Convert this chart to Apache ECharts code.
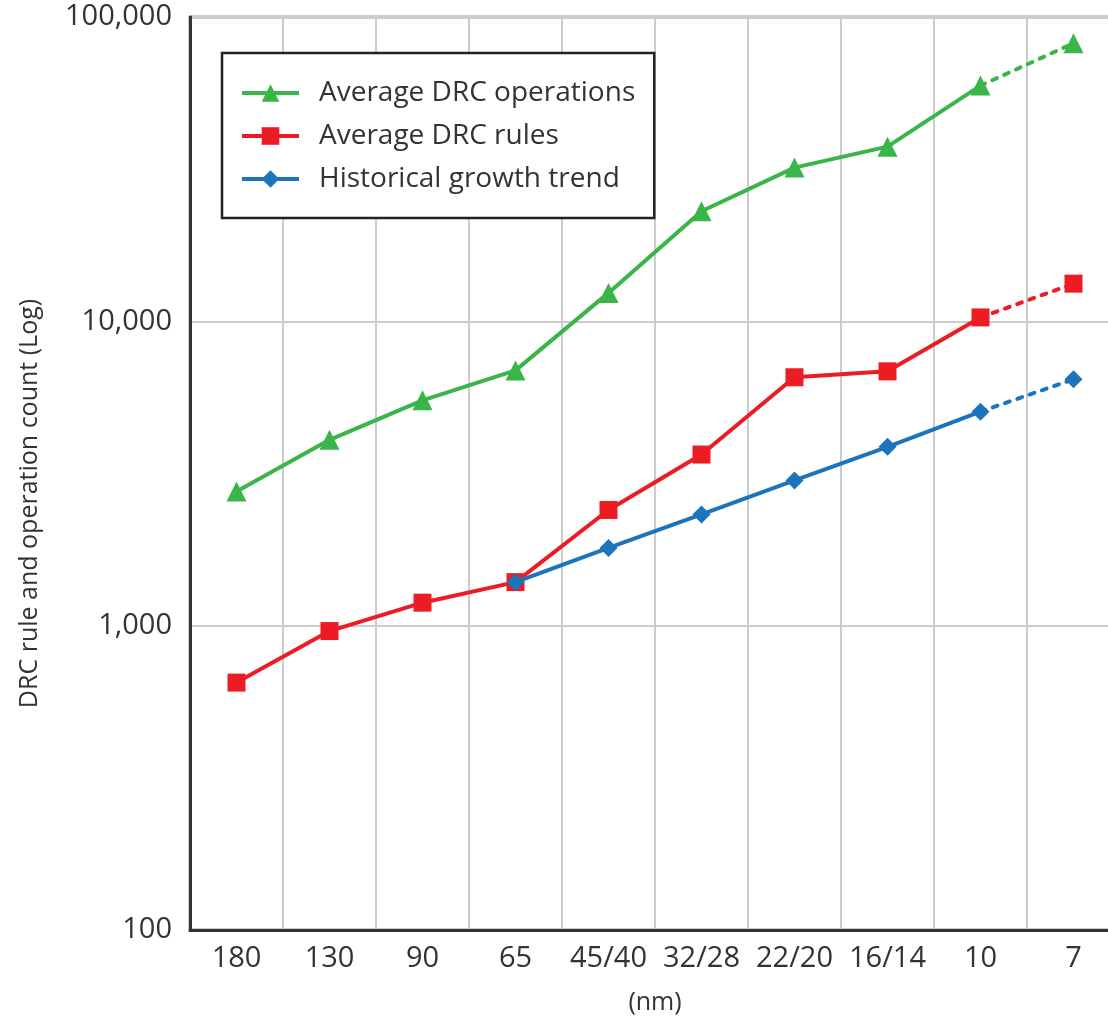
<!DOCTYPE html>
<html>
<head>
<meta charset="utf-8">
<script src="https://cdn.jsdelivr.net/npm/echarts@6/dist/echarts.min.js"></script>
<style>
  html, body { margin: 0; padding: 0; background: #fff; }
  #main { width: 1108px; height: 1017px; }
</style>
</head>
<body>
<div id="main"></div>
<script>
// 工艺节点 (nm)
const nodes = ['180', '130', '90', '65', '45/40', '32/28', '22/20', '16/14', '10', '7'];
// 读图估算的数值
const drcOperations = [2760, 4080, 5500, 6900, 12400, 23000, 32000, 37500, 59500, 82000];
const drcRules = [650, 960, 1190, 1390, 2400, 3650, 6550, 6850, 10300, 13300];
const growthTrend = [null, null, null, 1390, 1800, 2320, 3000, 3870, 5050, 6450];

const names = ['Average DRC operations', 'Average DRC rules', 'Historical growth trend'];
const colors = ['#3ab54a', '#ed1c24', '#1c75bc'];
const symbols = ['triangle', 'rect', 'diamond'];
const symbolSizes = [20, 18, 18];

const font = '"Open Sans", sans-serif';
const chart = echarts.init(document.getElementById('main'));

// 实线部分: 到 10nm 为止
function solidPart(arr) {
    return arr.map((v, i) => (i < arr.length - 1 ? v : null));
}
// 虚线部分: 10nm -> 7nm
function dottedPart(arr) {
    const n = arr.length;
    return arr.map((v, i) => {
        if (i === n - 2) return { value: v, symbol: 'none' };
        if (i === n - 1) return v;
        return null;
    });
}

const allData = [drcOperations, drcRules, growthTrend];
const series = [];
allData.forEach((arr, k) => {
    series.push({
        name: names[k],
        type: 'line',
        data: solidPart(arr),
        symbol: symbols[k],
        symbolSize: symbolSizes[k],
        itemStyle: { color: colors[k] },
        lineStyle: { width: 4, color: colors[k] },
        z: 3 + k
    });
    series.push({
        name: names[k],
        type: 'line',
        data: dottedPart(arr),
        symbol: symbols[k],
        symbolSize: symbolSizes[k],
        itemStyle: { color: colors[k] },
        lineStyle: { width: 4, color: colors[k], type: [5, 8], cap: 'round' },
        z: 3 + k
    });
});

const option = {
    backgroundColor: '#fff',
    animation: false,
    textStyle: { fontFamily: font, color: '#333' },
    grid: {
        left: 190,
        top: 17,
        width: 930,
        height: 913,
        outerBoundsMode: 'none',
        containLabel: false,
        show: true,
        borderColor: '#333',
        borderWidth: 2.5
    },
    legend: {
        data: names,
        orient: 'vertical',
        left: 222,
        top: 53,
        backgroundColor: '#fff',
        borderColor: '#222',
        borderWidth: 2.5,
        borderRadius: 0,
        padding: [26, 19, 25, 18],
        itemWidth: 57,
        itemHeight: 22,
        itemGap: 15,
        lineStyle: { width: 4 },
        textStyle: {
            fontFamily: font,
            fontSize: 28,
            color: '#333',
            padding: [0, 0, 0, 15]
        }
    },
    xAxis: {
        type: 'category',
        data: nodes,
        boundaryGap: true,
        name: '(nm)',
        nameLocation: 'middle',
        nameGap: 60,
        nameTextStyle: { fontFamily: font, fontSize: 25, color: '#333' },
        axisLine: { lineStyle: { color: '#333', width: 3 } },
        axisTick: { show: false },
        axisLabel: { interval: 0, fontFamily: font, fontSize: 29, color: '#333', margin: 14 },
        splitLine: { show: true, interval: 0, lineStyle: { color: '#ccc', width: 2 } }
    },
    yAxis: {
        type: 'log',
        logBase: 10,
        min: 100,
        max: 100000,
        name: 'DRC rule and operation count (Log)',
        nameLocation: 'middle',
        nameGap: 148,
        nameTextStyle: { fontFamily: font, fontSize: 25, color: '#333', padding: [0, 60, 0, 0] },
        axisLine: { show: true, lineStyle: { color: '#333', width: 3 } },
        axisTick: { show: false },
        axisLabel: {
            fontFamily: font,
            fontSize: 29,
            color: '#333',
            margin: 18,
            formatter: v => v.toLocaleString('en-US')
        },
        splitLine: { show: true, lineStyle: { color: '#ccc', width: 2 } }
    },
    series: series
};

chart.setOption(option);
</script>
</body>
</html>
